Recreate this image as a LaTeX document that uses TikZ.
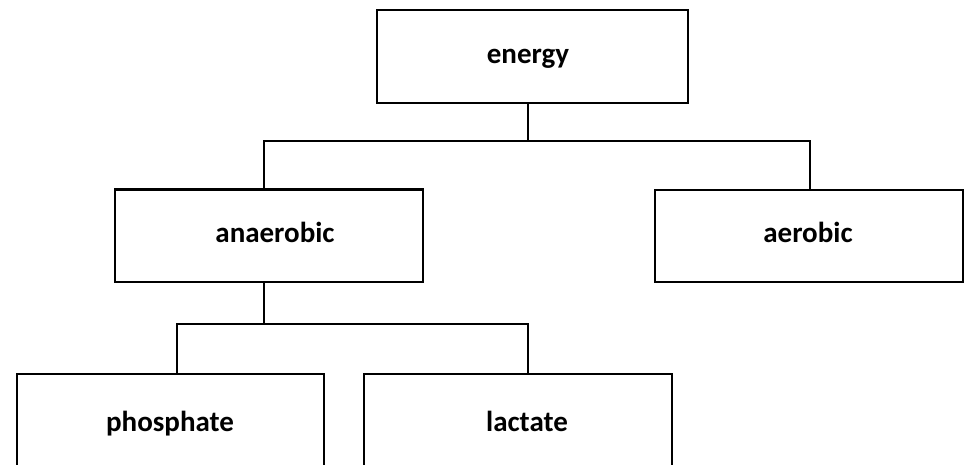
\documentclass[tikz,border=0pt]{standalone}
\usepackage{fontspec}
\setmainfont{Carlito}
\begin{document}
\begin{tikzpicture}[x=1pt,y=-1pt,
  box/.style={draw=black,line width=2.2pt,minimum width=#1,minimum height=92.5pt,inner sep=0pt,fill=white},
  lbl/.style={font=\fontsize{29}{34}\selectfont\bfseries,inner sep=0pt,text=black,anchor=base},
  conn/.style={draw=black,line width=2.2pt}]
\clip (0,0) rectangle (968,464);
\fill[white] (0,0) rectangle (968,464);
% boxes
\node[box=311pt] (energy) at (532.5,56.5) {};
\node[box=308pt] (anaerobic) at (269,235.75) {};
\node[box=308pt] (aerobic) at (809,236) {};
\node[box=307pt,minimum height=110pt] (phosphate) at (170.5,429) {};
\node[box=308pt,minimum height=110pt] (lactate) at (518,429) {};
% labels
\node[lbl] (energyT) at (528,63) {energy};
\node[lbl] (anaerobicT) at (275,242) {anaerobic};
\node[lbl] (aerobicT) at (808,242) {aerobic};
\node[lbl] (phosphateT) at (170,431) {phosphate};
\node[lbl] (lactateT) at (527,431) {lactate};
% junctions
\coordinate (j1) at (528,141);
\coordinate (a1) at (264,141);
\coordinate (a2) at (810,141);
\coordinate (j2) at (264,324);
\coordinate (p1) at (177,324);
\coordinate (l1) at (528,324);
% connectors
\draw[conn] (j1 |- energy.south) -- (j1);
\draw[conn] (anaerobic.north -| a1) |- (a2) -- (aerobic.north -| a2);
\draw[conn] (j2 |- anaerobic.south) -- (j2);
\draw[conn] (phosphate.north -| p1) |- (l1) -- (lactate.north -| l1);
\end{tikzpicture}
\end{document}
